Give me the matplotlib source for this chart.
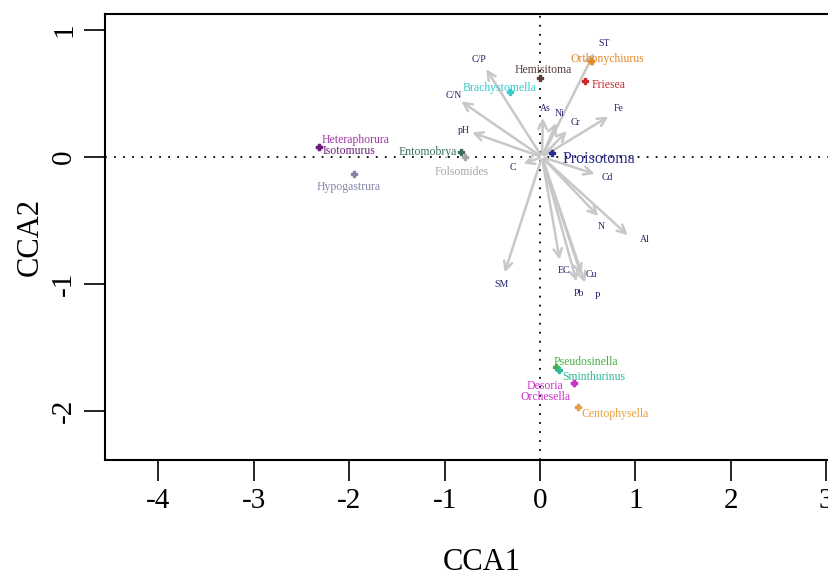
import numpy as np
import matplotlib
matplotlib.use("Agg")
import matplotlib.pyplot as plt

plt.rcParams['font.family'] = ['Liberation Serif', 'DejaVu Serif']
plt.rcParams['axes.unicode_minus'] = False

# species scores (CCA1, CCA2)
sp_names = ["Hemisitoma", "Orthonychiurus", "Friesea", "Brachystomella", "Proisotoma",
            "Heteraphorura", "Isotomurus", "Entomobrya", "Folsomides", "Hypogastrura",
            "Pseudosinella", "Sminthurinus", "Desoria", "Orchesella", "Centophysella"]
sp_x = [0.00, 0.53, 0.47, -0.32, 0.13, -2.32, -2.32, -0.83, -0.79, -1.95,
        0.17, 0.20, 0.36, 0.36, 0.40]
sp_y = [0.62, 0.76, 0.60, 0.51, 0.03, 0.08, 0.08, 0.04, 0.00, -0.13,
        -1.65, -1.68, -1.78, -1.78, -1.97]
sp_cols = ["#5a3c3c", "#e08a2a", "#cc2a2a", "#33cccc", "#2a2a90",
           "#a038a8", "#6a1e7a", "#3c6e5a", "#a8a8a8", "#8484a8",
           "#44b044", "#33b899", "#cc33cc", "#cc33cc", "#e8a040"]

# environmental vectors
env_names = ["ST", "C/P", "C/N", "pH", "As", "Ni", "Cr", "Fe", "C", "Cd",
             "N", "Al", "SM", "EC", "Cu", "Pb", "P"]
env_x = [0.58, -0.58, -0.85, -0.74, 0.03, 0.18, 0.30, 0.74, -0.20, 0.60,
         0.63, 0.94, -0.38, 0.21, 0.44, 0.39, 0.48]
env_y = [0.84, 0.71, 0.45, 0.20, 0.33, 0.29, 0.22, 0.33, -0.06, -0.14,
         -0.48, -0.63, -0.93, -0.83, -0.95, -1.00, -1.01]

# label placement (offset in points, alignment)
sp_lab = {
    "Hemisitoma": (2, 6, "center"),
    "Orthonychiurus": (12, 1, "center"),
    "Friesea": (5, -3, "left"),
    "Brachystomella": (-7, 3, "center"),
    "Proisotoma": (7, -4, "left"),
    "Heteraphorura": (2, 5, "left"),
    "Isotomurus": (3, -3, "left"),
    "Entomobrya": (-3, 0, "right"),
    "Folsomides": (-2, -11, "center"),
    "Hypogastrura": (-4, -10, "center"),
    "Pseudosinella": (-2, 3, "left"),
    "Sminthurinus": (2, -5, "left"),
    "Desoria": (-8, -2, "right"),
    "Orchesella": (-3, -10, "right"),
    "Centophysella": (2, -5, "left"),
}
env_lab = {
    "ST": (6, 5), "C/P": (-4, 5), "C/N": (-4, 3), "pH": (-4, 1), "As": (2, 5),
    "Ni": (2, 5), "Cr": (5, 5), "Fe": (6, 5), "C": (-6, -2), "Cd": (7, -2),
    "N": (1, -6), "Al": (11, -2), "SM": (-2, -7), "EC": (3, -6), "Cu": (7, 2),
    "Pb": (1, -7), "P": (8, -8),
}

fig = plt.figure(figsize=(8.29, 5.86), dpi=100)
ax = fig.add_axes([0.1267, 0.215, 0.885, 0.761])

ax.axhline(0, color="black", linestyle=(0, (1, 4)), linewidth=1.3, zorder=1)
ax.axvline(0, color="black", linestyle=(0, (1, 4)), linewidth=1.3, zorder=1)

for n, x, y in zip(env_names, env_x, env_y):
    ax.annotate("", xy=(x, y), xytext=(0.02, 0.0),
                arrowprops=dict(arrowstyle="->,head_length=0.6,head_width=0.3",
                                color="#c8c8c8", lw=1.8), zorder=2)
    dx, dy = env_lab[n]
    ax.annotate(n, xy=(x, y), xytext=(dx, dy), textcoords="offset points",
                ha="center", va="center", fontsize=7, color="#23236e", zorder=3)

for n, x, y, c in zip(sp_names, sp_x, sp_y, sp_cols):
    ax.plot(x, y, marker="P", markersize=4, color=c, linestyle="none", zorder=4)
    dx, dy, ha = sp_lab[n]
    fs = 11.5 if n == "Proisotoma" else 8.5
    ax.annotate(n, xy=(x, y), xytext=(dx, dy), textcoords="offset points",
                ha=ha, va="center", fontsize=fs, color=c, zorder=5)

ax.set_xlim(-4.56, 3.13)
ax.set_ylim(-2.386, 1.126)
ax.set_xticks([-4, -3, -2, -1, 0, 1, 2, 3])
ax.set_yticks([-2, -1, 0, 1])
ax.tick_params(axis="both", direction="out", length=15, width=1.2, labelsize=21, pad=5)
for lab in ax.get_yticklabels():
    lab.set_rotation(90)
    lab.set_va("center")
for s in ax.spines.values():
    s.set_linewidth(1.5)

ax.set_xlabel("CCA1", fontsize=22, va="center")
ax.set_ylabel("CCA2", fontsize=22, va="center")
ax.xaxis.set_label_coords(0.514, -0.229)
ax.yaxis.set_label_coords(-0.102, 0.5)

fig.savefig("out.png", dpi=100)
